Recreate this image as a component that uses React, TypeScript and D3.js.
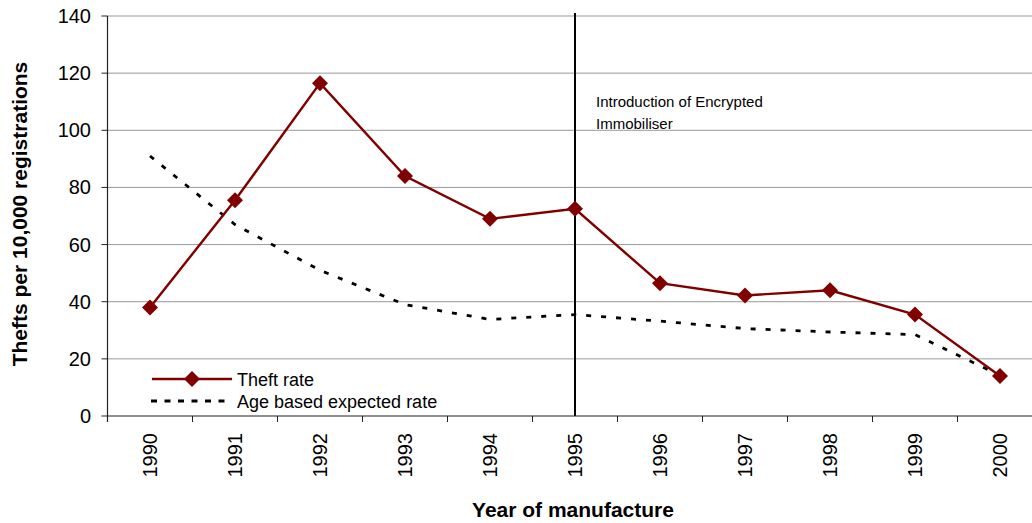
import React from "react";
import * as d3 from "d3";

const years = ["1990","1991","1992","1993","1994","1995","1996","1997","1998","1999","2000"];
const theftRate = [38, 75.5, 116.5, 84, 69, 72.5, 46.5, 42.2, 44, 35.5, 14];
const expectedRate = [91, 67, 51, 39, 33.8, 35.5, 33.2, 30.6, 29.4, 28.5, 14.2];
const yTicks = [0, 20, 40, 60, 80, 100, 120, 140];
const markerYear = "1995";

const W = 1032, H = 523;
const left = 107.5, top = 16, bottom = 416;
const band = 85;
const font = "'Liberation Sans', Arial, sans-serif";
const maroon = "#800000";

export default function App() {
  const x = d3.scaleBand<string>().domain(years).range([left, left + band * years.length]);
  const y = d3.scaleLinear().domain([0, 140]).range([bottom, top]);
  const cx = (d: string) => (x(d) as number) + x.bandwidth() / 2;
  const line = d3.line<number>().x((_, i) => cx(years[i])).y((v) => y(v));
  const diamond = (px: number, py: number, r = 8) => `M${px},${py - r}L${px + r},${py}L${px},${py + r}L${px - r},${py}Z`;
  const vx = cx(markerYear);

  return (
    <svg width={W} height={H} style={{ position: "absolute", left: 0, top: 0, background: "#fff" }} fontFamily={font}>
      {yTicks.map((t) => (
        <g key={t}>
          {t > 0 && <line x1={left} x2={W} y1={y(t)} y2={y(t)} stroke="#999" strokeWidth={1} />}
          <line x1={left - 6} x2={left} y1={y(t)} y2={y(t)} stroke="#222" strokeWidth={1} />
          <text x={91} y={y(t) + 7} textAnchor="end" fontSize={20} fill="#000">{t}</text>
        </g>
      ))}
      {/* x axis */}
      <line x1={left} x2={W} y1={bottom} y2={bottom} stroke="#222" strokeWidth={1.2} />
      <line x1={left} x2={left} y1={top} y2={bottom + 6} stroke="#222" strokeWidth={1.2} />
      {years.map((yr) => (
        <line key={"t" + yr} x1={(x(yr) as number) + band} x2={(x(yr) as number) + band} y1={bottom} y2={bottom + 6} stroke="#222" strokeWidth={1} />
      ))}
      {years.map((yr) => (
        <text key={yr} transform={`translate(${cx(yr) + 7},${433}) rotate(-90)`} textAnchor="end" fontSize={20} fill="#000">{yr}</text>
      ))}
      {/* vertical marker line */}
      <line x1={vx} x2={vx} y1={13} y2={bottom} stroke="#000" strokeWidth={2} />
      <text x={596} y={107} fontSize={15} fill="#000">Introduction of Encrypted</text>
      <text x={596} y={129} fontSize={15} fill="#000">Immobiliser</text>
      {/* expected */}
      <path d={line(expectedRate) || ""} fill="none" stroke="#000" strokeWidth={2.8} strokeDasharray="5,10" />
      {/* theft */}
      <path d={line(theftRate) || ""} fill="none" stroke={maroon} strokeWidth={2.4} />
      {theftRate.map((v, i) => (
        <path key={i} d={diamond(cx(years[i]), y(v))} fill={maroon} />
      ))}
      {/* legend */}
      <line x1={152} x2={232} y1={379} y2={379} stroke={maroon} strokeWidth={2.4} />
      <path d={diamond(192, 379)} fill={maroon} />
      <text x={237} y={385.5} fontSize={18} fill="#000">Theft rate</text>
      <line x1={151} x2={232} y1={401} y2={401} stroke="#000" strokeWidth={2.8} strokeDasharray="6,7.5" />
      <text x={237} y={408} fontSize={18} fill="#000">Age based expected rate</text>
      {/* axis titles */}
      <text transform={`translate(27,${214}) rotate(-90)`} textAnchor="middle" fontSize={21} fontWeight="bold" fill="#000">Thefts per 10,000 registrations</text>
      <text x={573} y={517} textAnchor="middle" fontSize={21} fontWeight="bold" fill="#000">Year of manufacture</text>
    </svg>
  );
}
